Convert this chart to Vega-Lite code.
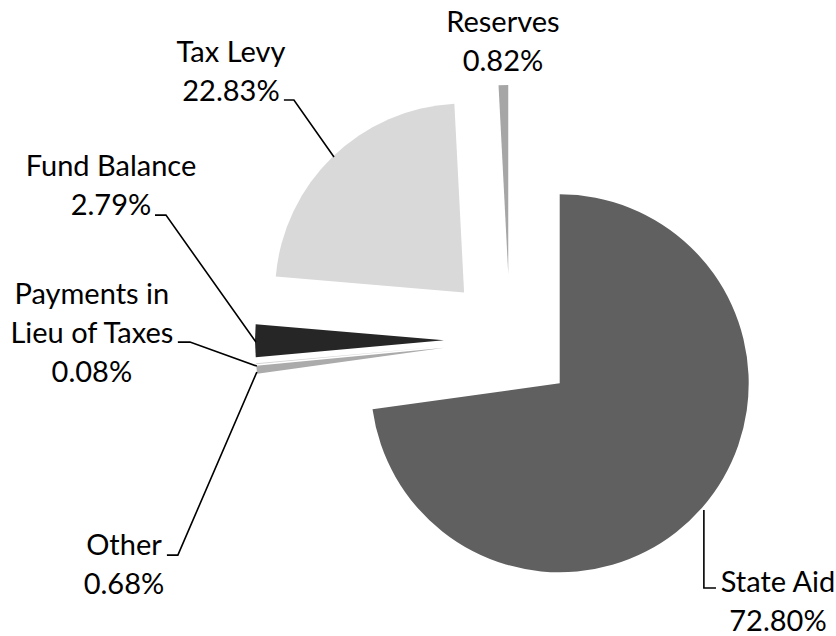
{
  "$schema": "https://vega.github.io/schema/vega-lite/v6.json",
  "width": 836,
  "height": 636,
  "autosize": {"type": "none"},
  "padding": 0,
  "config": {"view": {"stroke": null}},
  "datasets": {
    "slices": [
      {"cat": "State Aid", "pct": 72.80, "ord": 1},
      {"cat": "Other", "pct": 0.68, "ord": 2},
      {"cat": "Payments in Lieu of Taxes", "pct": 0.08, "ord": 3},
      {"cat": "Fund Balance", "pct": 2.79, "ord": 4},
      {"cat": "Tax Levy", "pct": 22.83, "ord": 5},
      {"cat": "Reserves", "pct": 0.82, "ord": 6}
    ],
    "labels": [
      {"cat": "Reserves", "name": "Reserves", "pct": 0.82, "lx": -0.037, "ly": 1.677},
      {"cat": "Tax Levy", "name": "Tax Levy", "pct": 22.83, "lx": -1.476, "ly": 1.519},
      {"cat": "Fund Balance", "name": "Fund Balance", "pct": 2.79, "lx": -2.111, "ly": 0.915},
      {"cat": "Payments in Lieu of Taxes", "name": "Payments in\nLieu of Taxes", "pct": 0.08, "lx": -2.212, "ly": 0.238},
      {"cat": "Other", "name": "Other", "pct": 0.68, "lx": -2.042, "ly": -1.090},
      {"cat": "State Aid", "name": "State Aid", "pct": 72.80, "lx": 1.418, "ly": -1.286}
    ],
    "leaders": [
      {"cat": "Tax Levy", "seq": 1, "lx": -1.196, "ly": 1.270},
      {"cat": "Tax Levy", "seq": 2, "lx": -1.143, "ly": 1.270},
      {"cat": "Tax Levy", "seq": 3, "lx": -0.931, "ly": 0.968},
      {"cat": "Fund Balance", "seq": 1, "lx": -1.878, "ly": 0.661},
      {"cat": "Fund Balance", "seq": 2, "lx": -1.820, "ly": 0.661},
      {"cat": "Fund Balance", "seq": 3, "lx": -1.344, "ly": -0.011},
      {"cat": "Payments in Lieu of Taxes", "seq": 1, "lx": -1.757, "ly": -0.011},
      {"cat": "Payments in Lieu of Taxes", "seq": 2, "lx": -1.693, "ly": -0.011},
      {"cat": "Payments in Lieu of Taxes", "seq": 3, "lx": -1.339, "ly": -0.138},
      {"cat": "Other", "seq": 1, "lx": -1.815, "ly": -1.138},
      {"cat": "Other", "seq": 2, "lx": -1.757, "ly": -1.138},
      {"cat": "Other", "seq": 3, "lx": -1.339, "ly": -0.169},
      {"cat": "State Aid", "seq": 1, "lx": 1.026, "ly": -0.899},
      {"cat": "State Aid", "seq": 2, "lx": 1.026, "ly": -1.312},
      {"cat": "State Aid", "seq": 3, "lx": 1.090, "ly": -1.312}
    ]
  },
  "layer": [
    {
      "data": {"name": "slices"},
      "transform": [
        {"window": [{"op": "sum", "field": "pct", "as": "t1"}], "sort": [{"field": "ord"}], "frame": [null, 0]},
        {"calculate": "datum.t1 - datum.pct", "as": "t0"},
        {"calculate": "(datum.t0 + datum.pct / 2) / 100 * 2 * PI", "as": "mid"},
        {"calculate": "0.349 * sin(datum.mid)", "as": "ex"},
        {"calculate": "0.349 * cos(datum.mid)", "as": "ey"}
      ],
      "mark": {"type": "arc", "outerRadius": 189, "innerRadius": 0, "stroke": null},
      "encoding": {
        "x": {"field": "ex", "type": "quantitative", "axis": null, "scale": {"domain": [-2.698, 1.725], "nice": false, "zero": false}},
        "y": {"field": "ey", "type": "quantitative", "axis": null, "scale": {"domain": [-1.566, 1.799], "nice": false, "zero": false}},
        "theta": {"field": "t0", "type": "quantitative", "stack": null, "scale": {"domain": [0, 100], "range": [0, 6.283185307]}},
        "theta2": {"field": "t1"},
        "color": {
          "field": "cat", "type": "nominal", "legend": null,
          "scale": {
            "domain": ["State Aid", "Other", "Payments in Lieu of Taxes", "Fund Balance", "Tax Levy", "Reserves"],
            "range": ["#606060", "#ababab", "#d4d4d4", "#262626", "#d9d9d9", "#a6a6a6"]
          }
        }
      }
    },
    {
      "data": {"name": "leaders"},
      "mark": {"type": "line", "color": "#000000", "strokeWidth": 1.6, "interpolate": "linear"},
      "encoding": {
        "x": {"field": "lx", "type": "quantitative", "axis": null},
        "y": {"field": "ly", "type": "quantitative", "axis": null},
        "detail": {"field": "cat"},
        "order": {"field": "seq"}
      }
    },
    {
      "data": {"name": "labels"},
      "transform": [
        {"calculate": "datum.name + '\\n' + format(datum.pct, '.2f') + '%'", "as": "txt"}
      ],
      "mark": {"type": "text", "font": "Lato", "fontSize": 29, "lineBreak": "\n", "lineHeight": 39, "align": "center", "baseline": "middle", "color": "#000000"},
      "encoding": {
        "x": {"field": "lx", "type": "quantitative", "axis": null},
        "y": {"field": "ly", "type": "quantitative", "axis": null},
        "text": {"field": "txt"}
      }
    }
  ]
}
